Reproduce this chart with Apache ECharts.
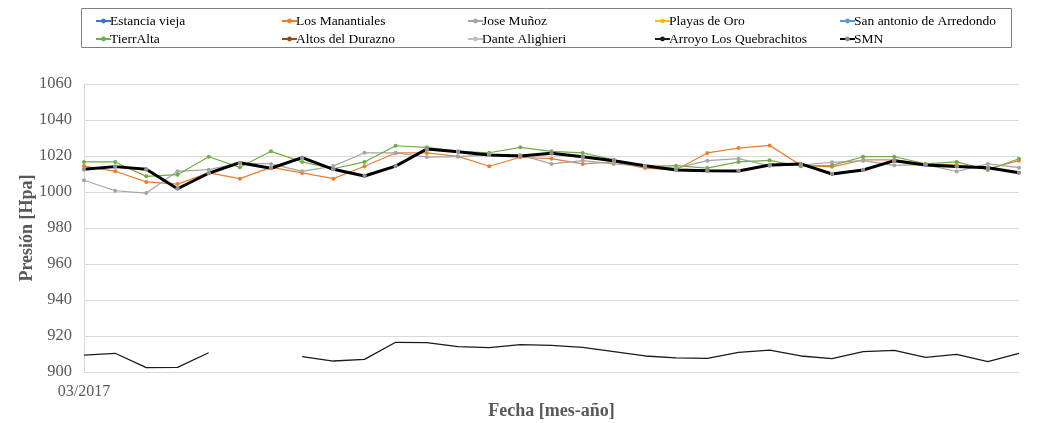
<!DOCTYPE html>
<html>
<head>
<meta charset="utf-8">
<script src="https://cdn.jsdelivr.net/npm/echarts@6/dist/echarts.min.js"></script>
<style>html,body{margin:0;padding:0;background:#fff}#c{width:1056px;height:423px}</style>
</head>
<body>
<div id="c"></div>
<script>
// Monthly categories 03/2017 .. 09/2019
const categories = ["03/2017","04/2017","05/2017","06/2017","07/2017","08/2017","09/2017","10/2017","11/2017","12/2017",
  "01/2018","02/2018","03/2018","04/2018","05/2018","06/2018","07/2018","08/2018","09/2018","10/2018","11/2018","12/2018",
  "01/2019","02/2019","03/2019","04/2019","05/2019","06/2019","07/2019","08/2019","09/2019"];
const yTicks = [900, 920, 940, 960, 980, 1000, 1020, 1040, 1060];

const estanciaVieja = [];
const playasDeOro = [];
const sanAntonio = [];
const altosDelDurazno = [];
const losManantiales = [1014.4,1011.5,1005.6,1004.4,1010.6,1007.4,1013.7,1010.6,1007.4,1014.3,1021.7,1021.7,1019.8,1014.3,1019.3,1018.5,1015.6,1016.7,1013.3,1012.4,1021.7,1024.4,1025.9,1014.8,1014.0,1017.8,1017.8,1015.6,1015.0,1012.9,1017.4];
const joseMunoz = [1006.5,1000.7,999.4,1011.5,1012.4,1016.1,1015.6,1011.5,1014.4,1021.8,1021.7,1019.4,1019.6,1020.6,1020.6,1015.6,1017.4,1015.6,1014.3,1013.3,1017.4,1018.5,1014.5,1015.0,1016.5,1017.4,1014.8,1015.2,1011.4,1015.6,1013.5];
const tierrAlta = [1016.7,1016.7,1008.7,1009.6,1019.6,1013.7,1022.6,1016.7,1012.9,1016.7,1025.7,1024.8,1022.6,1021.8,1024.8,1022.6,1021.7,1017.9,1014.3,1014.6,1013.3,1016.7,1017.6,1014.3,1014.8,1019.6,1019.6,1015.6,1016.7,1012.2,1018.5];
const danteAlighieri = [1012.4,1014.3,1012.4,1002.2,1010.6,1016.0,1013.5,1018.8,1012.8,1009.2,1014.3,1023.6,1022.6,1020.8,1020.2,1021.3,1019.4,1017.2,1014.6,1012.4,1011.6,1011.9,1015.0,1015.4,1010.3,1012.4,1017.2,1015.2,1014.3,1013.5,1010.9];
const arroyoQuebrachitos = [909.4,910.4,902.4,902.6,910.7,null,null,908.5,906.1,907.0,916.5,916.3,914.1,913.5,915.2,914.8,913.7,911.3,908.9,907.8,907.6,910.9,912.2,908.9,907.4,911.3,912.0,908.1,909.8,905.7,910.4];
const smn = [1012.6,1014.1,1012.6,1001.8,1010.4,1016.3,1013.2,1019.1,1012.6,1008.9,1014.4,1023.9,1022.4,1020.6,1020.0,1021.5,1019.6,1017.4,1014.6,1012.2,1011.8,1011.7,1015.0,1015.6,1010.0,1012.2,1017.4,1015.0,1014.1,1013.5,1010.7];

const FONT = 'Liberation Serif';
function mk(name, data, color, opts) {
  return Object.assign({
    name: name, type: 'line', data: data,
    symbol: 'circle', symbolSize: 4,
    lineStyle: {color: color, width: 1.2},
    itemStyle: {color: color},
    emphasis: {disabled: true},
    animation: false
  }, opts || {});
}

const series = [
  mk('Estancia vieja', estanciaVieja, '#4472C4'),
  mk('Los Manantiales', losManantiales, '#ED7D31'),
  mk('Jose Muñoz', joseMunoz, '#A5A5A5'),
  mk('Playas de Oro', playasDeOro, '#FFC000'),
  mk('San antonio de Arredondo', sanAntonio, '#5B9BD5'),
  mk('TierrAlta', tierrAlta, '#70AD47'),
  mk('Altos del Durazno', altosDelDurazno, '#9E480E'),
  mk('Dante Alighieri', danteAlighieri, '#BFBFBF'),
  mk('Arroyo Los Quebrachitos', arroyoQuebrachitos, '#1a1a1a', {symbol: 'none', lineStyle: {color: '#1a1a1a', width: 1.3}}),
  mk('SMN', smn, '#000000', {symbolSize: 4, itemStyle: {color: '#8c8c8c'}, lineStyle: {color: '#000', width: 3}})
];

const cols = [
  ['Estancia vieja', 'TierrAlta'],
  ['Los Manantiales', 'Altos del Durazno'],
  ['Jose Muñoz', 'Dante Alighieri'],
  ['Playas de Oro', 'Arroyo Los Quebrachitos'],
  ['San antonio de Arredondo', 'SMN']
];
const colLeft = [90, 276, 462, 649, 834];
const legends = cols.map((d, i) => ({
  data: d, orient: 'vertical', left: colLeft[i], top: 9,
  itemGap: 4, itemWidth: 15, itemHeight: 6,
  textStyle: {fontFamily: FONT, fontSize: 13.5, color: '#000', padding: [0, 0, 0, -6]},
  selectedMode: false
}));

const chart = echarts.init(document.getElementById('c'));
chart.setOption({
  backgroundColor: '#fff',
  animation: false,
  legend: legends,
  graphic: [{type: 'rect', shape: {x: 81.5, y: 8.5, width: 930, height: 39}, style: {fill: 'none', stroke: '#808080', lineWidth: 1}, z: -1}],
  grid: {left: 84, right: 37, top: 84, bottom: 51, containLabel: false, outerBoundsMode: 'none'},
  xAxis: {
    type: 'category', data: categories, boundaryGap: false,
    name: 'Fecha [mes-año]', nameLocation: 'middle', nameGap: 30, nameMoveOverlap: false,
    nameTextStyle: {fontFamily: FONT, fontSize: 18, fontWeight: 'bold', color: '#595959'},
    axisLine: {lineStyle: {color: '#d9d9d9'}},
    axisTick: {show: false},
    axisLabel: {interval: (idx) => idx === 0, fontFamily: FONT, fontSize: 16, color: '#595959', margin: 12},
    splitLine: {show: false}
  },
  yAxis: {
    type: 'value', min: yTicks[0], max: yTicks[yTicks.length - 1], interval: 20,
    name: 'Presión [Hpa]', nameLocation: 'middle', nameGap: 48, nameMoveOverlap: false,
    nameTextStyle: {fontFamily: FONT, fontSize: 18, fontWeight: 'bold', color: '#595959'},
    axisLine: {show: true, lineStyle: {color: '#d9d9d9'}},
    axisTick: {show: false},
    axisLabel: {fontFamily: FONT, fontSize: 16.5, color: '#595959', margin: 12, formatter: (v) => String(v)},
    splitLine: {lineStyle: {color: '#d9d9d9'}}
  },
  series: series
});
</script>
</body>
</html>
